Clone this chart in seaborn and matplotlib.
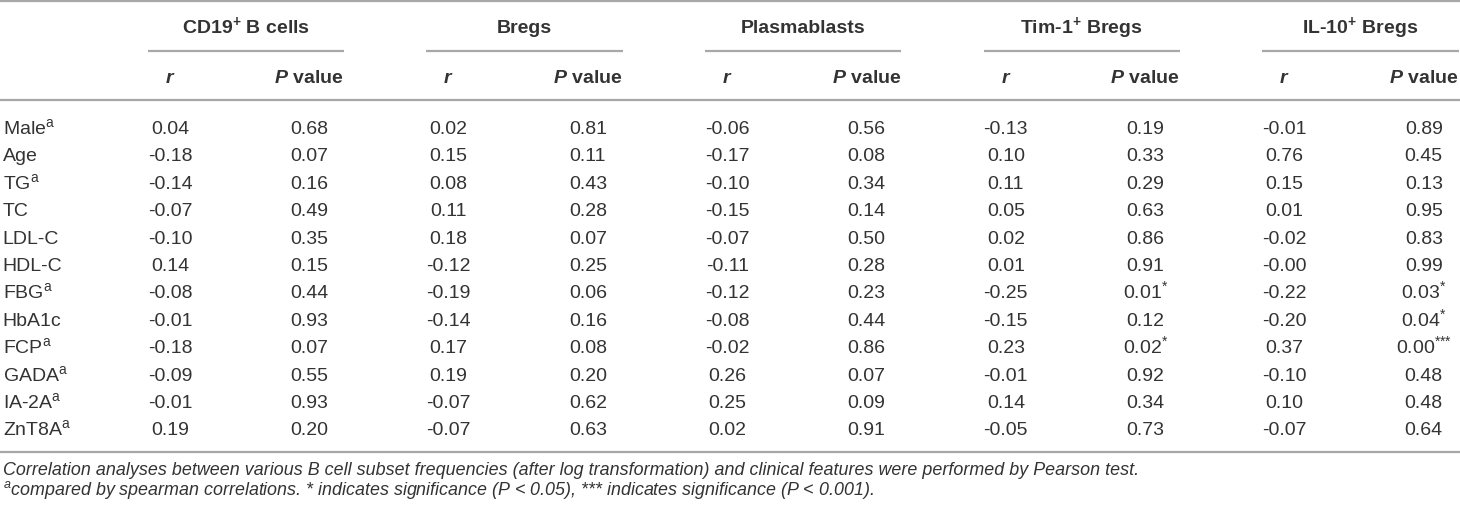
import matplotlib
matplotlib.use("Agg")
import matplotlib.pyplot as plt
import seaborn as sns

# table content
features = ["Male", "Age", "TG", "TC", "LDL-C", "HDL-C", "FBG", "HbA1c",
            "FCP", "GADA", "IA-2A", "ZnT8A"]
spearman = [True, False, True, False, False, False, True, False,
            True, True, True, True]
groups = [r"CD19$^{\mathbf{+}}$ B cells", "Bregs", "Plasmablasts",
          r"Tim-1$^{\mathbf{+}}$ Bregs", r"IL-10$^{\mathbf{+}}$ Bregs"]

cd19_r = ["0.04", "-0.18", "-0.14", "-0.07", "-0.10", "0.14", "-0.08", "-0.01",
          "-0.18", "-0.09", "-0.01", "0.19"]
cd19_p = ["0.68", "0.07", "0.16", "0.49", "0.35", "0.15", "0.44", "0.93",
          "0.07", "0.55", "0.93", "0.20"]
bregs_r = ["0.02", "0.15", "0.08", "0.11", "0.18", "-0.12", "-0.19", "-0.14",
           "0.17", "0.19", "-0.07", "-0.07"]
bregs_p = ["0.81", "0.11", "0.43", "0.28", "0.07", "0.25", "0.06", "0.16",
           "0.08", "0.20", "0.62", "0.63"]
plasma_r = ["-0.06", "-0.17", "-0.10", "-0.15", "-0.07", "-0.11", "-0.12", "-0.08",
            "-0.02", "0.26", "0.25", "0.02"]
plasma_p = ["0.56", "0.08", "0.34", "0.14", "0.50", "0.28", "0.23", "0.44",
            "0.86", "0.07", "0.09", "0.91"]
tim_r = ["-0.13", "0.10", "0.11", "0.05", "0.02", "0.01", "-0.25", "-0.15",
         "0.23", "-0.01", "0.14", "-0.05"]
tim_p = ["0.19", "0.33", "0.29", "0.63", "0.86", "0.91", "0.01*", "0.12",
         "0.02*", "0.92", "0.34", "0.73"]
il10_r = ["-0.01", "0.76", "0.15", "0.01", "-0.02", "-0.00", "-0.22", "-0.20",
          "0.37", "-0.10", "0.10", "-0.07"]
il10_p = ["0.89", "0.45", "0.13", "0.95", "0.83", "0.99", "0.03*", "0.04*",
          "0.00***", "0.48", "0.48", "0.64"]

columns = [cd19_r, cd19_p, bregs_r, bregs_p, plasma_r, plasma_p,
           tim_r, tim_p, il10_r, il10_p]

note1 = ("Correlation analyses between various B cell subset frequencies "
         "(after log transformation) and clinical features were performed by Pearson test.")
note2 = (r"$^{a}$compared by spearman correlations. * indicates significance "
         r"(P < 0.05), *** indicates significance (P < 0.001).")

sns.set_theme(style="white")
plt.rcParams["font.family"] = ["Liberation Sans", "DejaVu Sans"]
plt.rcParams["mathtext.fontset"] = "custom"
plt.rcParams["mathtext.rm"] = "Liberation Sans"
plt.rcParams["mathtext.it"] = "Liberation Sans:italic"
plt.rcParams["mathtext.bf"] = "Liberation Sans:bold"
plt.rcParams["mathtext.bfit"] = "Liberation Sans:bold:italic"

TXT = "#333333"
LINE = "#a8a8a8"
FS = 14.0
FS_NOTE = 12.9
OFF = 0.255       # centre -> baseline, in row units
OFF_NOTE = 0.234


def sup_star(s):
    n = s.count("*")
    if n:
        return s.replace("*", "") + "$^{" + "{*}" * n + "}$"
    return s


fig = plt.figure(figsize=(14.6, 5.09), dpi=100)
ax = fig.add_axes([0, 0, 1, 1])
# x: column index, y: row index
ax.set_xlim(-1.22, 9.26)
ax.set_ylim(13.94, -4.635)
ax.axis("off")

# rules
for y in [-4.6, -0.985, 11.86]:
    ax.plot([-1.22, 9.26], [y, y], color=LINE, lw=1.6, solid_capstyle="butt")

VA = "baseline"
for g, name in enumerate(groups):
    x0 = 2 * g
    ax.text(x0 + 0.545, -3.69 + OFF, name, ha="center", va=VA,
            fontsize=FS, fontweight="bold", color=TXT)
    ax.plot([x0 - 0.16, x0 + 1.25], [-2.77, -2.77], color=LINE, lw=1.6,
            solid_capstyle="butt")
    ax.text(x0, -1.86 + OFF, r"$\mathbfit{r}$", ha="center", va=VA,
            fontsize=FS, color=TXT)
    ax.text(x0 + 1, -1.86 + OFF, r"$\mathbfit{P}$ value", ha="center", va=VA,
            fontsize=FS, fontweight="bold", color=TXT)

for i, feat in enumerate(features):
    lab = feat + (r"$^{\mathrm{a}}$" if spearman[i] else "")
    ax.text(-1.2, i + OFF, lab, ha="left", va=VA, fontsize=FS, color=TXT)
    for k, col in enumerate(columns):
        ax.text(k, i + OFF, sup_star(col[i]), ha="center", va=VA,
                fontsize=FS, color=TXT)

ax.text(-1.2, 12.45 + OFF_NOTE, note1, ha="left", va=VA, fontsize=FS_NOTE,
        style="italic", color=TXT)
ax.text(-1.2, 13.21 + OFF_NOTE, note2, ha="left", va=VA, fontsize=FS_NOTE,
        style="italic", color=TXT)

fig.savefig("out.png", dpi=100, facecolor="white")
